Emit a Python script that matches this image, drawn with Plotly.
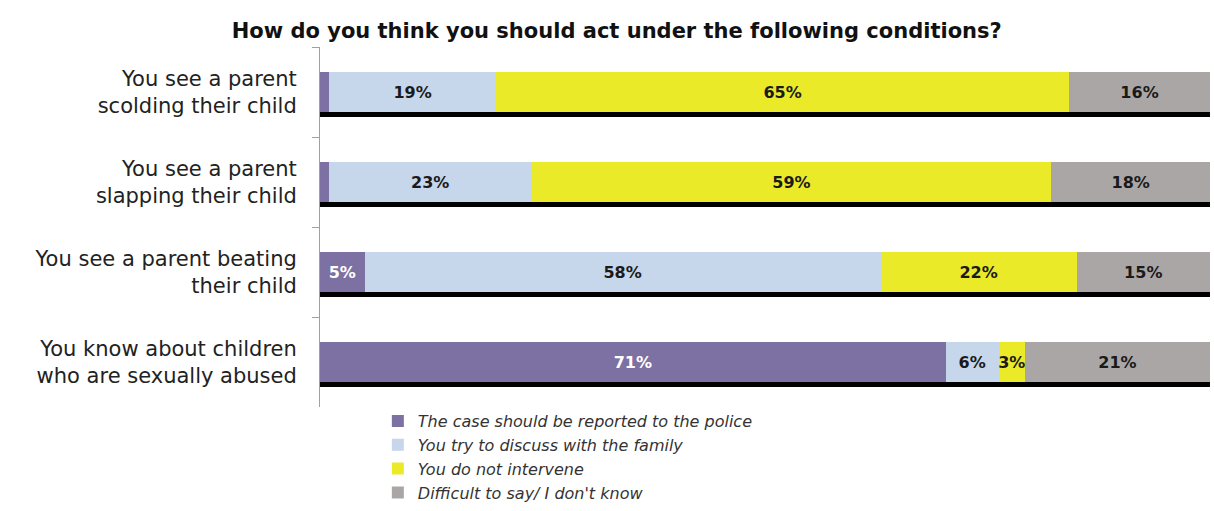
import plotly.graph_objects as go

categories = [
    "You see a parent<br>scolding their child",
    "You see a parent<br>slapping their child",
    "You see a parent beating<br>their child",
    "You know about children<br>who are sexually abused",
]
series_names = [
    "The case should be reported to the police",
    "You try to discuss with the family",
    "You do not intervene",
    "Difficult to say/ I don't know",
]
police = [1, 1, 5, 71]
discuss = [19, 23, 58, 6]
no_intervene = [65, 59, 22, 3]
dont_know = [16, 18, 15, 21]
series_values = [police, discuss, no_intervene, dont_know]
colors = ["#7D70A2", "#C6D6EB", "#EAEA28", "#ABA6A6"]
text_colors = ["white", "#1a1a1a", "#1a1a1a", "#1a1a1a"]
hide_below = 2  # segments too thin for a label

totals = [sum(v) for v in zip(*series_values)]
FONT = "DejaVu Sans, Arial"

fig = go.Figure()

# shadow (black bar under each stacked bar) on base axis
fig.add_trace(go.Bar(
    y=categories, x=totals, orientation="h", marker=dict(color="black", line=dict(width=0)),
    width=0.44, showlegend=False, hoverinfo="skip", yaxis="y", xaxis="x",
))

for name, vals, col, tc in zip(series_names, series_values, colors, text_colors):
    fig.add_trace(go.Bar(
        y=categories, x=vals, name=name, orientation="h",
        marker=dict(color=col, line=dict(width=0)),
        width=0.44,
        text=[f"{v}%" if v > hide_below else "" for v in vals],
        textposition="inside", insidetextanchor="middle", constraintext="none", textangle=0,
        textfont=dict(family=FONT, size=16, color=tc, weight="bold"),
        yaxis="y2", xaxis="x",
    ))

shift = 5 / 90.0
fig.update_layout(
    width=1214, height=511,
    margin=dict(l=320, r=4, t=47, b=104, autoexpand=False),
    paper_bgcolor="white", plot_bgcolor="white",
    barmode="stack", barnorm="percent",
    font=dict(family=FONT, color="#222"),
    title=dict(text="<b>How do you think you should act under the following conditions?</b>",
               x=0.508, xanchor="center", y=0.94, yanchor="middle",
               font=dict(size=21, color="#111")),
    xaxis=dict(range=[0, 100], visible=False, fixedrange=True, automargin=False),
    yaxis=dict(type="category", categoryorder="array", categoryarray=categories,
               range=[3.5 - shift, -0.5 - shift], visible=False, automargin=False),
    yaxis2=dict(type="category", categoryorder="array", categoryarray=categories,
                range=[3.5, -0.5], overlaying="y", side="left", automargin=False,
                showline=True, linecolor="#a0a0a0", linewidth=1,
                ticks="outside", tickson="boundaries", ticklen=7, tickcolor="#a0a0a0",
                ticklabelstandoff=18,
                tickfont=dict(size=21, color="#222"), showgrid=False),
    legend=dict(x=0.065, y=0.008, xanchor="left", yanchor="top", traceorder="normal",
                font=dict(size=16, color="#333", style="italic"),
                itemwidth=30, tracegroupgap=0, bgcolor="rgba(0,0,0,0)"),
    bargap=0.56,
)

fig.write_html("out.html", config={"displayModeBar": False},
               post_script="document.body.style.margin='0';")
